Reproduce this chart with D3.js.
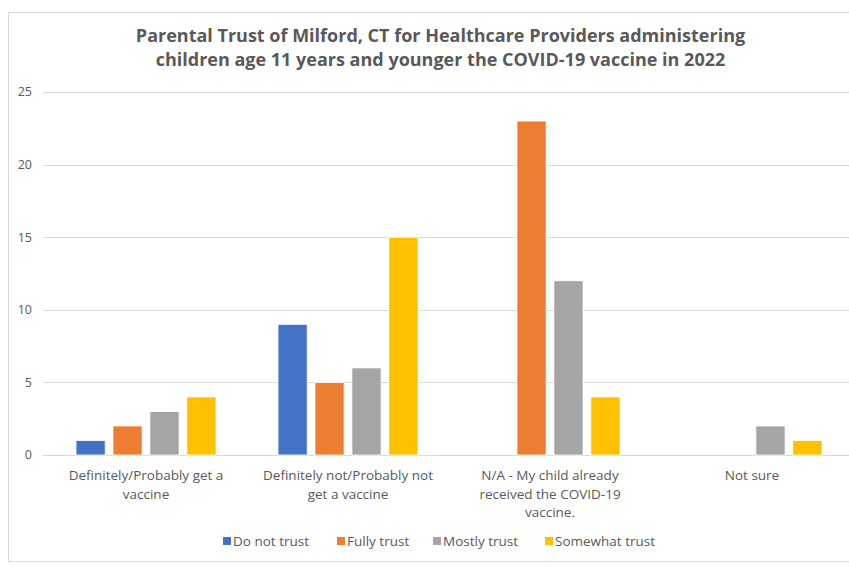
<!DOCTYPE html>
<html>
<head>
<meta charset="utf-8">
<script src="https://cdn.jsdelivr.net/npm/d3@7"></script>
<style>
  body { margin: 0; background: #fff; }
  text { font-family: "Open Sans", Lato, sans-serif; fill: #595959; }
</style>
</head>
<body>
<div id="chart"></div>
<script>
var svgWidth = 849;
var svgHeight = 567;

// data
var categories = [
  "Definitely/Probably get a vaccine",
  "Definitely not/Probably not get a vaccine",
  "N/A - My child already received the COVID-19 vaccine.",
  "Not sure"
];
var series = ["Do not trust", "Fully trust", "Mostly trust", "Somewhat trust"];
var colors = ["#4472c4", "#ed7d31", "#a5a5a5", "#ffc000"];
var doNotTrust = [1, 9, 0, 0];
var fullyTrust = [2, 5, 23, 0];
var mostlyTrust = [3, 6, 12, 2];
var somewhatTrust = [4, 15, 4, 1];
var yTicks = [0, 5, 10, 15, 20, 25];
var titleLines = [
  "Parental Trust of Milford, CT for Healthcare Providers administering",
  "children age 11 years and younger the COVID-19 vaccine in 2022"
];

var values = [doNotTrust, fullyTrust, mostlyTrust, somewhatTrust];

var svg = d3.select("#chart")
  .append("svg")
  .attr("width", svgWidth)
  .attr("height", svgHeight);

// chart frame
svg.append("rect")
  .attr("x", 8.5)
  .attr("y", 12.5)
  .attr("width", 860)
  .attr("height", 549)
  .attr("fill", "#fff")
  .attr("stroke", "#d9d9d9");

// title
svg.append("text")
  .attr("text-anchor", "middle")
  .style("font-size", "18px")
  .style("font-weight", "bold")
  .selectAll("tspan")
  .data(titleLines)
  .enter()
  .append("tspan")
  .attr("x", 440.5)
  .attr("y", (d, i) => 42 + i * 24)
  .text(d => d);

var yScale = d3.scaleLinear()
  .domain([0, 25])
  .range([455, 92]);

var xScale = d3.scaleBand()
  .domain(categories)
  .range([45, 853]);

var xInner = d3.scaleBand()
  .domain(series)
  .range([-70, 70])
  .paddingInner(0.21);

// gridlines
svg.append("g")
  .selectAll("line")
  .data(yTicks)
  .enter()
  .append("line")
  .attr("x1", 43)
  .attr("x2", 849)
  .attr("y1", d => Math.round(yScale(d)) + 0.5)
  .attr("y2", d => Math.round(yScale(d)) + 0.5)
  .attr("stroke", "#d9d9d9")
  .attr("stroke-width", 1);

// y tick labels
svg.append("g")
  .selectAll("text")
  .data(yTicks)
  .enter()
  .append("text")
  .attr("x", 32)
  .attr("y", d => yScale(d))
  .attr("dy", "0.35em")
  .attr("text-anchor", "end")
  .style("font-size", "12.5px")
  .text(d => d);

// bars
var groups = svg.append("g")
  .selectAll("g")
  .data(series)
  .enter()
  .append("g")
  .attr("fill", (d, i) => colors[i]);

groups.selectAll("rect")
  .data((s, si) => categories.map((c, ci) => ({ cat: c, s: s, v: values[si][ci] })))
  .enter()
  .filter(d => d.v > 0)
  .append("rect")
  .attr("x", d => xScale(d.cat) + xScale.bandwidth() / 2 + xInner(d.s))
  .attr("y", d => yScale(d.v))
  .attr("width", xInner.bandwidth())
  .attr("height", d => yScale(0) - yScale(d.v))
  .attr("stroke", "#fff")
  .attr("stroke-width", 0.8);

// category labels, wrapped
function wrap(textSel, width) {
  textSel.each(function() {
    var text = d3.select(this);
    var words = text.text().split(/\s+/);
    var x = text.attr("x");
    var line = [];
    text.text(null);
    var tspan = text.append("tspan").attr("x", x).attr("dy", 0);
    words.forEach(function(w) {
      line.push(w);
      tspan.text(line.join(" "));
      if (tspan.node().getComputedTextLength() > width && line.length > 1) {
        line.pop();
        tspan.text(line.join(" "));
        line = [w];
        tspan = text.append("tspan").attr("x", x).attr("dy", "18.5px").text(w);
      }
    });
  });
}

svg.append("g")
  .selectAll("text")
  .data(categories)
  .enter()
  .append("text")
  .attr("x", d => xScale(d) + xScale.bandwidth() / 2)
  .attr("y", 480)
  .attr("text-anchor", "middle")
  .style("font-size", "13.5px")
  .text(d => d)
  .call(wrap, 185);

// legend
var legend = svg.append("g");
var legendX = [223, 337, 433, 545];
var items = legend.selectAll("g")
  .data(series)
  .enter()
  .append("g")
  .attr("transform", (d, i) => `translate(${legendX[i]}, 541)`);

items.append("rect")
  .attr("x", 0)
  .attr("y", -4)
  .attr("width", 8)
  .attr("height", 8)
  .attr("fill", (d, i) => colors[i]);

items.append("text")
  .attr("x", 10)
  .attr("dy", "0.35em")
  .style("font-size", "13.5px")
  .text(d => d);
</script>
</body>
</html>
